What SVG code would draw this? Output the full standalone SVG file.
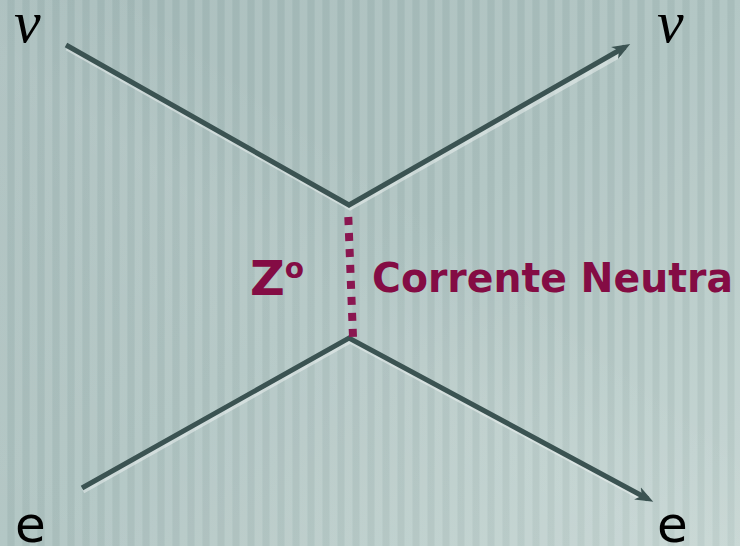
<svg xmlns="http://www.w3.org/2000/svg" width="740" height="546" viewBox="0 0 740 546">
  <defs>
    <linearGradient id="bg" x1="0" y1="0" x2="1" y2="1">
      <stop offset="0" stop-color="#a3b9b8"/>
      <stop offset="0.5" stop-color="#acc1bf"/>
      <stop offset="1" stop-color="#c2d3d0"/>
    </linearGradient>
    <pattern id="stripes" width="15" height="10" patternUnits="userSpaceOnUse">
      <rect x="0" y="0" width="7" height="10" fill="#ffffff" fill-opacity="0.09"/>
      <rect x="8" y="0" width="6" height="10" fill="#5f7a78" fill-opacity="0.06"/>
    </pattern>
    <linearGradient id="sheen" x1="0" y1="1" x2="1" y2="0">
      <stop offset="0" stop-color="#ffffff" stop-opacity="0"/>
      <stop offset="0.45" stop-color="#ffffff" stop-opacity="0.06"/>
      <stop offset="0.6" stop-color="#ffffff" stop-opacity="0"/>
    </linearGradient>
    <marker id="arrow" markerUnits="userSpaceOnUse" markerWidth="22" markerHeight="16" refX="12" refY="8" orient="auto" viewBox="0 0 22 16">
      <path d="M0,1 L18,8 L0,15 L5,8 z" fill="#3b5352"/>
    </marker>
    <style>
      .line { stroke: #3b5352; stroke-width: 5; fill: none; stroke-linecap: butt; stroke-linejoin: miter; }
      .glow { stroke: #ffffff; stroke-opacity: 0.4; stroke-width: 5; fill: none; }
      .boson { stroke: #8a1650; stroke-width: 8; stroke-dasharray: 8 8; fill: none; }
      .nu { font-family: "Liberation Serif", "DejaVu Serif", serif; font-style: italic; font-size: 60px; fill: #000; }
      .el { font-family: "DejaVu Sans", "Liberation Sans", sans-serif; font-size: 50px; fill: #000; }
      .lbl { font-family: "DejaVu Sans", "Verdana", sans-serif; font-weight: bold; fill: #840c44; }
    </style>
  </defs>

  <rect x="0" y="0" width="740" height="546" fill="url(#bg)"/>
  <rect x="0" y="0" width="740" height="546" fill="url(#stripes)"/>
  <rect x="0" y="0" width="740" height="546" fill="url(#sheen)"/>

  <g id="connectors">
    <polyline class="glow" points="67,48 350,208 620,55"/>
    <polyline class="glow" points="83,491 350,341 640,497"/>
    <polyline class="line" points="66,45 349,205 625,47" marker-end="url(#arrow)"/>
    <polyline class="line" points="82,488 349,338 648,499" marker-end="url(#arrow)"/>
    <line class="boson" x1="348.3" y1="217" x2="353" y2="337"/>
  </g>

  <g id="nu-in"><text class="nu" x="14" y="42">ν</text></g>
  <g id="nu-out"><text class="nu" x="657" y="42">ν</text></g>
  <g id="e-in"><text class="el" x="15" y="542">e</text></g>
  <g id="e-out"><text class="el" x="657" y="542">e</text></g>
  <g id="label-z0"><text class="lbl" x="250" y="295" font-size="48">Z<tspan font-size="28" dy="-17">o</tspan></text></g>
  <g id="label-current"><text class="lbl" x="372" y="292" font-size="40" textLength="361" lengthAdjust="spacingAndGlyphs">Corrente Neutra</text></g>
</svg>
